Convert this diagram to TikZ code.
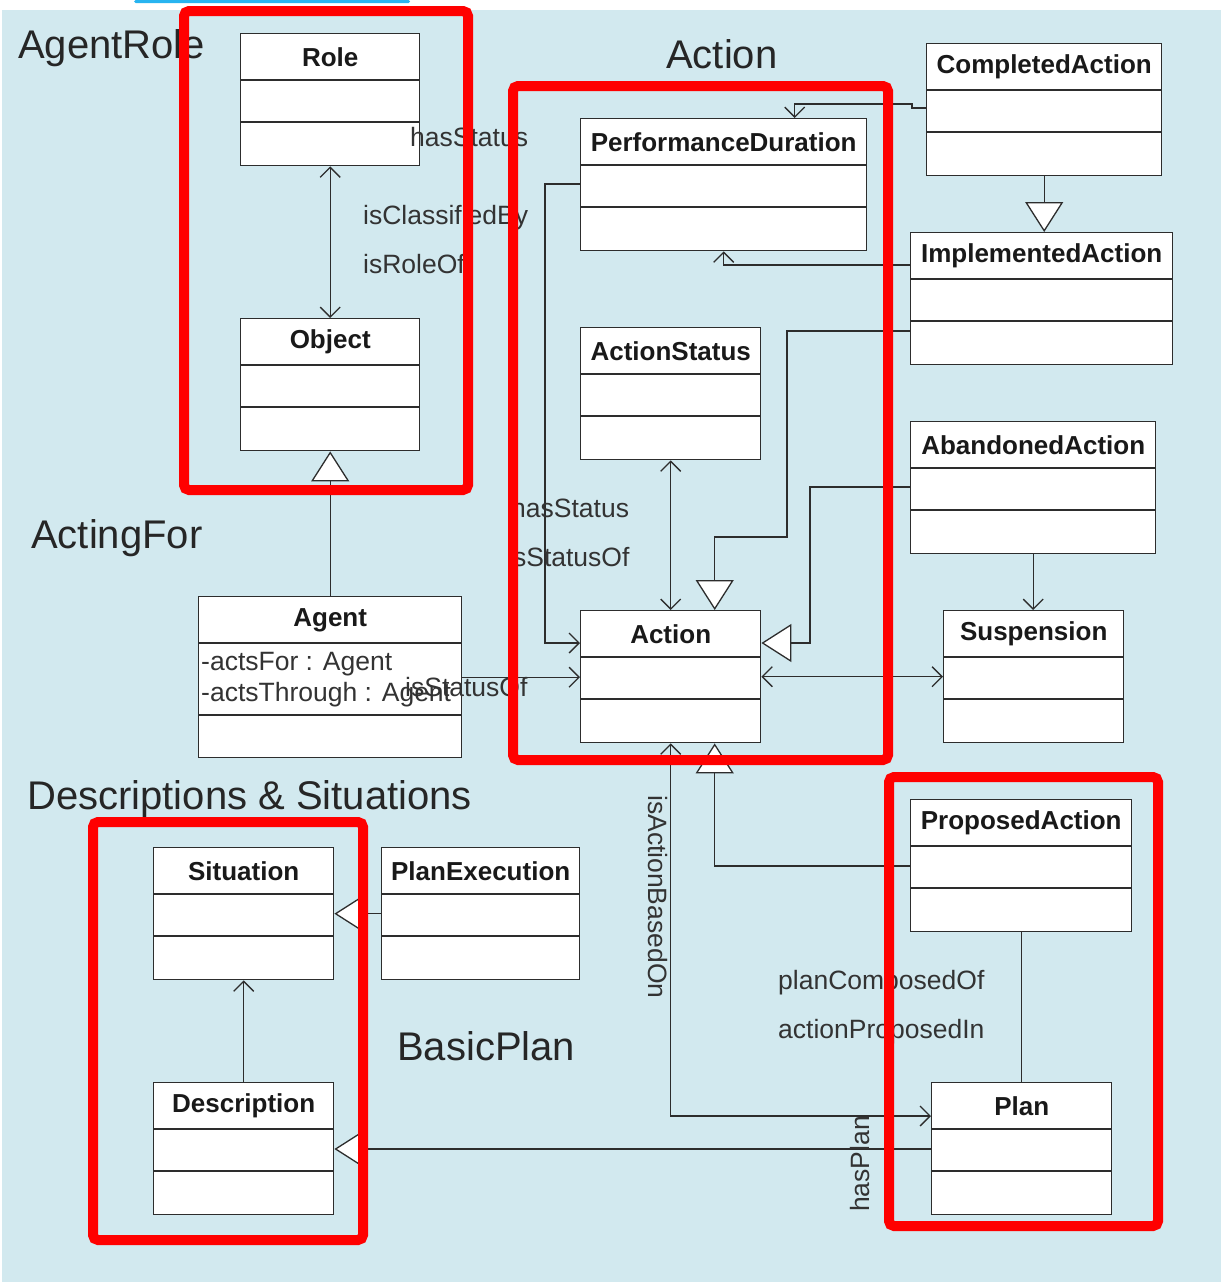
\documentclass[tikz,border=0pt]{standalone}
\usepackage{fontspec}
\setmainfont{Liberation Sans}
\usetikzlibrary{arrows.meta}

\definecolor{pkgbg}{RGB}{210,233,239}
\definecolor{linegray}{RGB}{45,45,45}
\definecolor{tabcyan}{RGB}{40,180,240}

\tikzset{
  classbox/.style={draw=linegray, fill=white, line width=1.4pt, minimum height=132pt, inner sep=0pt, anchor=north west},
  classname/.style={font=\fontsize{26}{30}\selectfont\bfseries, text=black!90, inner sep=0pt},
  sepline/.style={draw=linegray, line width=1.4pt},
  rolelabel/.style={font=\fontsize{26.5}{30}\selectfont, text=black!80, anchor=base west, inner sep=0pt},
  pkglabel/.style={font=\fontsize{40}{44}\selectfont, text=black!85, anchor=base west, inner sep=0pt},
  conn/.style={draw=linegray, line width=1.3pt},
  gen/.style={conn, -{Triangle[length=30pt, width=38pt, fill=white]}},
  redframe/.style={draw=red, line width=10pt, rounded corners=5pt},
  >={Straight Barb[length=10pt, width=20pt]}
}

% name, x, y, width, title
\newcommand{\umlclass}[5]{
  \node[classbox, minimum width=#4pt] (#1) at (#2,#3) {};
  \node[classname] (#1title) at ([yshift=-24pt]#1.north) {#5};
  \draw[sepline] ([yshift=-47pt]#1.north west) -- ([yshift=-47pt]#1.north east);
  \draw[sepline] ([yshift=-89pt]#1.north west) -- ([yshift=-89pt]#1.north east);
}

\begin{document}
\begin{tikzpicture}[x=1pt, y=-1pt]
\useasboundingbox (0,0) rectangle (1224,1282);
\fill[pkgbg] (2,10) rectangle (1221,1282);
\fill[tabcyan, rounded corners=1.5pt] (134,0) rectangle (410,3);

% classes
\umlclass{role}{240}{33}{179}{Role}
\umlclass{object}{240}{318}{179}{Object}
\umlclass{perfdur}{580}{118}{286}{PerformanceDuration}
\umlclass{completed}{926}{43}{235}{CompletedAction}
\umlclass{implemented}{910}{232}{262}{ImplementedAction}
\umlclass{actstatus}{580}{327}{180}{ActionStatus}
\umlclass{abandoned}{910}{421}{245}{AbandonedAction}
\umlclass{action}{580}{610}{180}{Action}
\umlclass{suspension}{943}{610}{180}{Suspension}
\umlclass{proposed}{910}{799}{221}{ProposedAction}
\umlclass{plan}{931}{1082}{180}{Plan}
\umlclass{situation}{153}{847}{180}{Situation}
\umlclass{planexec}{381}{847}{198}{PlanExecution}
\umlclass{description}{153}{1082}{180}{Description}

\node[classbox, minimum width=263pt, minimum height=161pt] (agent) at (198,596) {};
\node[classname] (agenttitle) at ([yshift=-24pt]agent.north) {Agent};
\draw[sepline] ([yshift=-47pt]agent.north west) -- ([yshift=-47pt]agent.north east);
\draw[sepline] ([yshift=-119pt]agent.north west) -- ([yshift=-119pt]agent.north east);
\node[rolelabel] (agentattra) at (201,670) {-actsFor : Agent};
\node[rolelabel] (agentattrb) at (201,701) {-actsThrough : Agent};

% connectors
\draw[conn, <->] (role.south) -- (object.north);
\draw[gen] (agent.north) -- (object.south);
\draw[conn, ->] (agent.east) -- (agent.east -| action.west);
\draw[conn, ->] ([yshift=-66pt]perfdur.north west) -- ++(-35,0) |- ([yshift=-33pt]action.north west);
\draw[conn, ->] ([yshift=-65pt]completed.north west) -- ++(-14,0) -- ++(0,-4) -| ([xshift=71pt]perfdur.north);
\draw[gen] (completed.south) -- (completed.south |- implemented.north);
\draw[conn, ->] ([yshift=-33pt]implemented.north west) -| (perfdur.south);
\draw[gen] ([yshift=-99pt]implemented.north west) -- ++(-123,0) -- ++(0,206) -| ([xshift=44pt]action.north);
\draw[conn, <->] (actstatus.south) -- (action.north);
\draw[gen] ([yshift=-66pt]abandoned.north west) -- ++(-100,0) |- ([yshift=-33pt]action.north east);
\draw[conn, ->] (abandoned.south) -- (abandoned.south |- suspension.north);
\draw[conn, <->] (action.east) -- (suspension.west);
\draw[gen] ([yshift=-67pt]proposed.north west) -| ([xshift=44pt]action.south);
\draw[conn, <->] (action.south) |- ([yshift=-34pt]plan.north west);
\draw[conn] (proposed.south) -- (proposed.south |- plan.north);
\draw[gen] ([yshift=-67pt]plan.north west) -- ([yshift=-67pt]description.north east);
\draw[gen] (planexec.west) -- (situation.east);
\draw[conn, ->] (description.north) -- (situation.south);

% association names
\node[rolelabel] (lblhasstatusa) at (410,146) {hasStatus};
\node[rolelabel] (lblclassified) at (363,224) {isClassifiedBy};
\node[rolelabel] (lblroleof) at (363,273) {isRoleOf};
\node[rolelabel] (lblhasstatusb) at (511,517) {hasStatus};
\node[rolelabel] (lblstatusofa) at (507,566) {isStatusOf};
\node[rolelabel] (lblstatusofb) at (405,696) {isStatusOf};
\node[rolelabel, rotate=-90] (lblbasedon) at (648,795) {isActionBasedOn};
\node[rolelabel] (lblcomposed) at (778,989) {planComposedOf};
\node[rolelabel] (lblproposed) at (778,1038) {actionProposedIn};
\node[rolelabel, rotate=90] (lblhasplan) at (869,1212) {hasPlan};

% package names
\node[pkglabel] (pkgagentrole) at (18,58) {AgentRole};
\node[pkglabel] (pkgaction) at (666,68) {Action};
\node[pkglabel] (pkgactingfor) at (31,548) {ActingFor};
\node[pkglabel] (pkgdns) at (27,809) {Descriptions \& Situations};
\node[pkglabel] (pkgbasicplan) at (397,1060) {BasicPlan};

% highlight frames
\draw[redframe] (184,11) rectangle (468,490);
\draw[redframe] (513,86) rectangle (888,760);
\draw[redframe] (93,822) rectangle (363,1240);
\draw[redframe] (889,777) rectangle (1158,1226);
\end{tikzpicture}
\end{document}
